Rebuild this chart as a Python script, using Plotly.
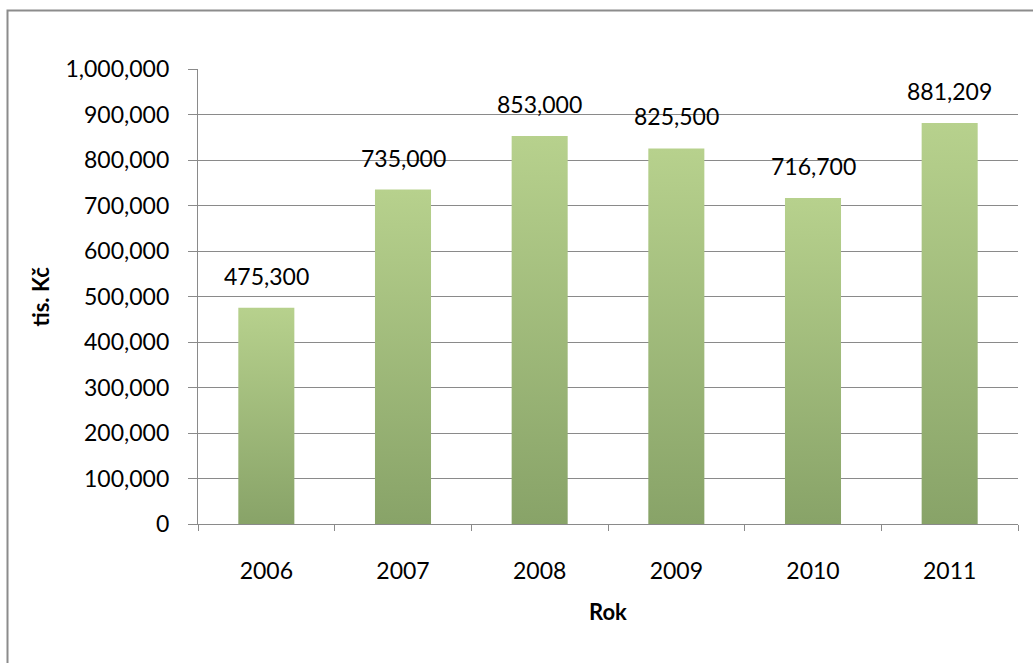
import plotly.graph_objects as go

years = ["2006", "2007", "2008", "2009", "2010", "2011"]
values = [475300, 735000, 853000, 825500, 716700, 881209]
y_ticks = [0, 100000, 200000, 300000, 400000, 500000, 600000, 700000, 800000, 900000, 1000000]

FONT = "Lato, 'Open Sans', sans-serif"
GRID = "#8a8a8a"
TOP = "#b7d18d"
BOTTOM = "#88a368"
HALF = 0.205

W, H = 1033, 663
L, R, T, B = 198, 15, 69, 139
pw, ph = W - L - R, H - T - B

fig = go.Figure()
for i, (yr, v) in enumerate(zip(years, values)):
    fig.add_trace(go.Scatter(
        x=[i - HALF, i - HALF, i + HALF, i + HALF, i - HALF],
        y=[0, v, v, 0, 0],
        mode="lines", fill="toself",
        line=dict(width=0, color=BOTTOM),
        fillgradient=dict(type="vertical",
                          colorscale=[[0, BOTTOM], [1, TOP]]),
        hoverinfo="skip", showlegend=False,
    ))
    fig.add_annotation(x=i, y=v, xref="x", yref="y", text=f"{v:,}",
                       showarrow=False, yanchor="bottom", yshift=16,
                       font=dict(family=FONT, size=23, color="#000"))

fig.update_xaxes(
    range=[-0.5, len(years) - 0.5],
    tickmode="array", tickvals=list(range(len(years))), ticktext=years,
    ticks="", showgrid=False, zeroline=False,
    showline=True, linecolor=GRID, linewidth=1.3,
    ticklabelstandoff=26,
    minor=dict(tick0=-0.5, dtick=1, ticks="outside", ticklen=6,
               tickcolor=GRID, tickwidth=1.3, showgrid=False),
    tickfont=dict(family=FONT, size=23, color="#000"),
    fixedrange=True,
)
fig.update_yaxes(
    range=[0, 1000000], tickmode="array", tickvals=y_ticks,
    tickformat=",", ticks="outside", ticklen=9, tickcolor=GRID, tickwidth=1.3,
    showgrid=True, gridcolor=GRID, gridwidth=1.3, zeroline=False,
    showline=True, linecolor=GRID, linewidth=1.3,
    ticklabelstandoff=14,
    tickfont=dict(family=FONT, size=23, color="#000"),
    fixedrange=True,
)

# axis titles
fig.add_annotation(xref="paper", yref="paper", x=(40 - L) / pw, y=0.5,
                   text="<b>tis. Kč</b>", textangle=-90, showarrow=False,
                   xanchor="center", yanchor="middle",
                   font=dict(family=FONT, size=22, color="#000"))
fig.add_annotation(xref="paper", yref="paper", x=0.5, y=(T + ph - 611) / ph,
                   text="<b>Rok</b>", showarrow=False,
                   xanchor="center", yanchor="middle",
                   font=dict(family=FONT, size=22, color="#000"))

# chart border
fig.add_shape(type="rect", xref="paper", yref="paper",
              x0=(7.5 - L) / pw, x1=(W + 20 - L) / pw,
              y0=(T + ph - (H + 20)) / ph, y1=(T + ph - 10.5) / ph,
              line=dict(color="#8c8c8c", width=2), fillcolor="rgba(0,0,0,0)",
              layer="below")

fig.update_layout(
    width=W, height=H,
    margin=dict(l=L, r=R, t=T, b=B),
    paper_bgcolor="white", plot_bgcolor="white",
    showlegend=False,
)
fig.write_html("out.html")
